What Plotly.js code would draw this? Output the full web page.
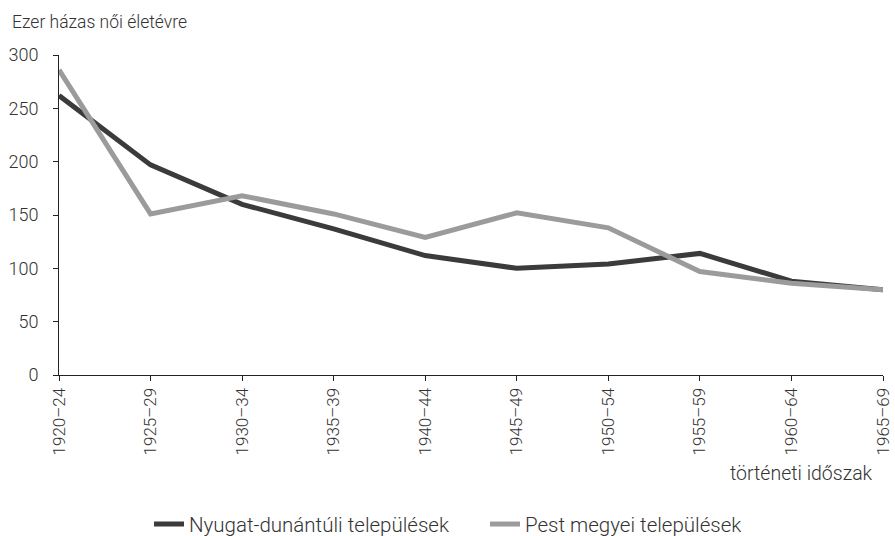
<!DOCTYPE html>
<html><head><meta charset="utf-8">
<script src="https://cdn.plot.ly/plotly-3.0.1.min.js"></script>
<style>body{margin:0}#c{width:895px;height:536px}</style>
</head><body><div id="c"></div>
<script>
const categories = ["1920–24","1925–29","1930–34","1935–39","1940–44","1945–49","1950–54","1955–59","1960–64","1965–69"];
const nyugat = [262,197,160,137,112,100,104,114,88,80];
const pest = [286,151,168,151,129,152,138,97,86,80];
const seriesNames = ["Nyugat-dunántúli települések","Pest megyei települések"];
const yTitle = "Ezer házas női életévre";
const xTitle = "történeti időszak";

const F = "Roboto, 'Noto Sans', sans-serif";
const C = '#333';
const traces = [
  {x: categories, y: nyugat, name: seriesNames[0], type:'scatter', mode:'lines', line:{color:'#3b3b3b', width:5}},
  {x: categories, y: pest, name: seriesNames[1], type:'scatter', mode:'lines', line:{color:'#9b9b9b', width:5}}
];
const layout = {
  width:895, height:536,
  margin:{l:59, r:12, t:55, b:161},
  paper_bgcolor:'#fff', plot_bgcolor:'#fff',
  font:{family:F, color:C, size:17, weight:300},
  showlegend:true,
  legend:{orientation:'h', x:0.1665, xanchor:'left', xref:'container', y:0.022, yref:'container', yanchor:'middle', font:{size:20.5, color:C, weight:300}, itemwidth:30, entrywidth:291, entrywidthmode:'pixels', tracegroupgap:0},
  xaxis:{type:'category', range:[0,9], showline:true, linecolor:'#222', linewidth:1, ticks:'outside', ticklen:5, tickcolor:'#222', tickangle:-90, showgrid:false, zeroline:false, tickfont:{size:17, color:C, weight:300}, ticklabelstandoff:0, fixedrange:true},
  yaxis:{range:[0,300], dtick:50, showline:true, linecolor:'#222', linewidth:1, ticks:'outside', ticklen:5, tickcolor:'#222', showgrid:false, zeroline:false, tickfont:{size:18, color:C, weight:300}, ticklabelstandoff:11},
  annotations:[
    {text:yTitle, xref:'paper', yref:'paper', x:-0.059, y:1.0, xanchor:'left', yanchor:'bottom', yshift:21, showarrow:false, font:{size:17.5, color:C, weight:300}},
    {text:xTitle, xref:'paper', yref:'paper', x:0.99, y:0, xanchor:'right', yanchor:'middle', yshift:-98, showarrow:false, font:{size:19.5, color:C, weight:300}}
  ]
};
Plotly.newPlot('c', traces, layout, {staticPlot:true});
</script></body></html>
